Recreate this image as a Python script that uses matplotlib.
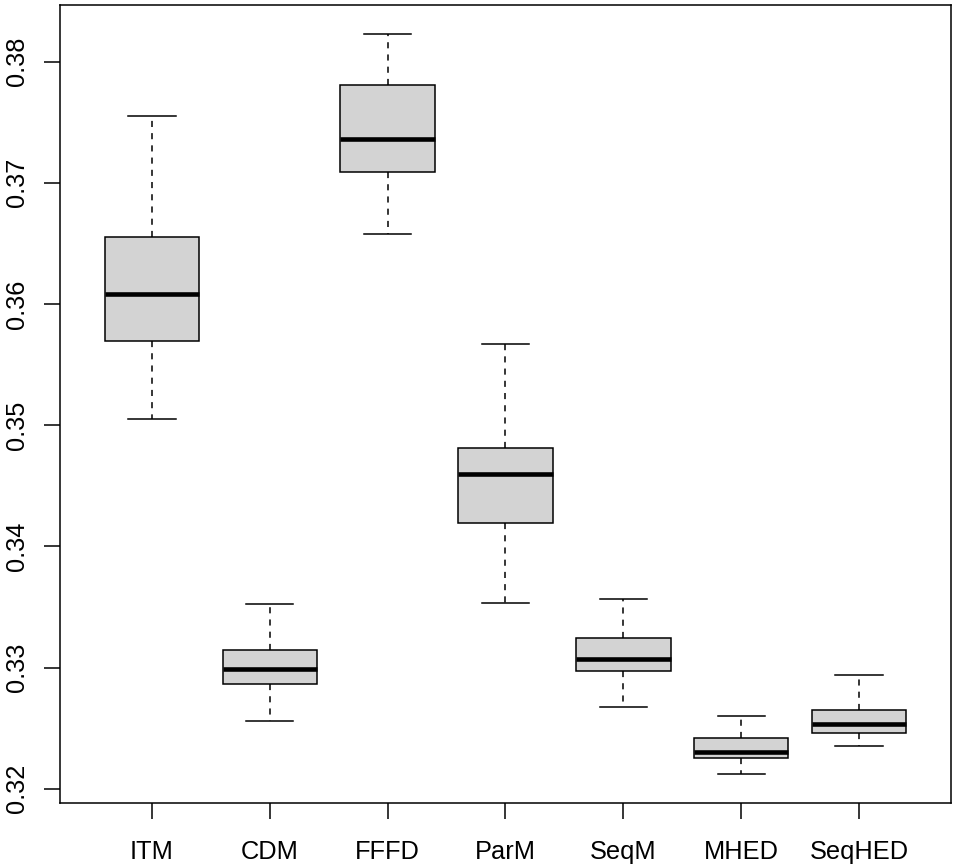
import matplotlib
matplotlib.use("Agg")
import matplotlib.pyplot as plt

categories = ["ITM", "CDM", "FFFD", "ParM", "SeqM", "MHED", "SeqHED"]
whislo = [0.35049, 0.32559, 0.36578, 0.33533, 0.32674, 0.32124, 0.32350]
q1     = [0.35697, 0.32864, 0.37090, 0.34193, 0.32971, 0.32251, 0.32457]
med    = [0.36085, 0.32988, 0.37362, 0.34597, 0.33070, 0.32303, 0.32534]
q3     = [0.36556, 0.33145, 0.37808, 0.34812, 0.33244, 0.32416, 0.32652]
whishi = [0.37549, 0.33524, 0.38228, 0.35670, 0.33566, 0.32602, 0.32938]
yticks = [0.32, 0.33, 0.34, 0.35, 0.36, 0.37, 0.38]
ytick_labels = ["0.32", "0.33", "0.34", "0.35", "0.36", "0.37", "0.38"]

plt.rcParams['font.family'] = ['Liberation Sans', 'DejaVu Sans']

W, H = 958, 864
fig = plt.figure(figsize=(W/100, H/100), dpi=100)
ax = fig.add_axes([60/W, (H-803)/H, (951-60)/W, (803-5)/H])

stats = []
for i, c in enumerate(categories):
    stats.append(dict(label=c, whislo=whislo[i], q1=q1[i], med=med[i],
                      q3=q3[i], whishi=whishi[i], fliers=[]))

ax.bxp(stats, positions=range(1, len(categories)+1), widths=0.8,
       patch_artist=True, showfliers=False,
       boxprops=dict(facecolor='#D3D3D3', edgecolor='black', linewidth=1.1),
       medianprops=dict(color='black', linewidth=3.3, solid_capstyle='butt'),
       whiskerprops=dict(color='black', linewidth=1.1, linestyle=(0, (4, 4))),
       capprops=dict(color='black', linewidth=1.1),
       capwidths=0.4)

ax.set_xlim(0.22, 7.78)
ax.set_ylim(0.31882, 0.38468)
ax.set_yticks(yticks)
ax.set_yticklabels(ytick_labels, rotation=90, va='center')
ax.set_xticks(range(1, len(categories)+1))
ax.set_xticklabels(categories)

ax.tick_params(axis='both', length=11.5, width=1.1, labelsize=18.3, direction='out')
ax.tick_params(axis='x', pad=15)
ax.tick_params(axis='y', pad=11)
for s in ax.spines.values():
    s.set_linewidth(1.1)

fig.savefig("out.png", dpi=100)
